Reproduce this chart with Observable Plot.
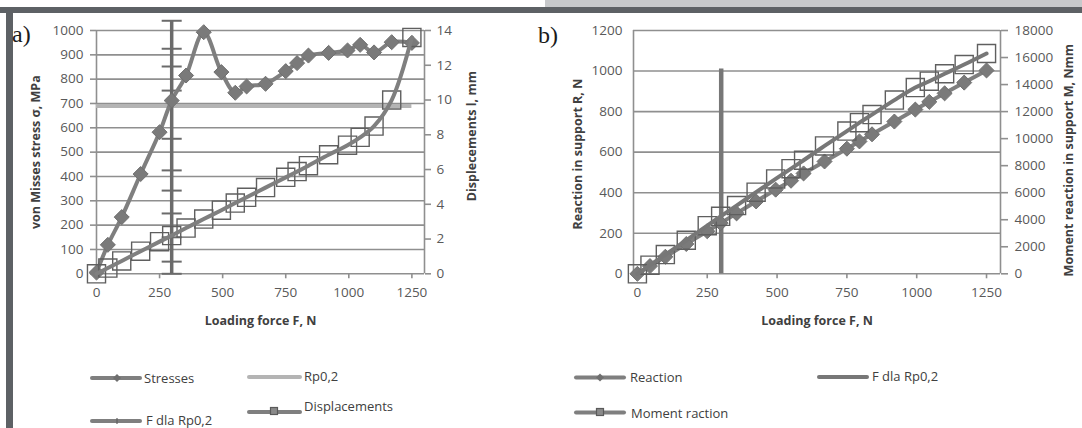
<!DOCTYPE html>
<html>
<head>
<meta charset="utf-8">
<script src="https://cdn.jsdelivr.net/npm/d3@7"></script>
<script src="https://cdn.jsdelivr.net/npm/@observablehq/plot@0.6"></script>
<style>
  body { margin: 0; background: #ffffff; }
  #root { position: relative; width: 1082px; height: 428px; overflow: hidden; background: #ffffff; font-family: "Open Sans", sans-serif; }
  .bar { position: absolute; }
  .lab { position: absolute; white-space: pre; line-height: 16px; }
</style>
</head>
<body>
<div id="root"></div>
<script>
// ---------------- data ----------------
const forceN = [0, 45, 100, 175, 250, 298, 355, 425, 495, 550, 595, 670, 750, 795, 840, 920, 995, 1045, 1100, 1170, 1250];
const stressMPa = [5, 119, 233, 410, 582, 712, 815, 993, 829, 744, 770, 781, 833, 866, 897, 908, 918, 941, 910, 952, 949];
const displacementMm = [0, 0.33, 0.74, 1.3, 1.85, 2.2, 2.63, 3.15, 3.66, 4.07, 4.4, 4.96, 5.55, 5.88, 6.22, 6.85, 7.4, 7.85, 8.5, 10.0, 13.6];
const reactionN = [0, 38, 84, 147, 210, 250, 298, 357, 415, 459, 495, 554, 617, 653, 688, 751, 810, 848, 890, 943, 1003];
const momentNmm = [0, 640, 1420, 2480, 3560, 4250, 5050, 6040, 7020, 7780, 8400, 9460, 10560, 11180, 11780, 12850, 13780, 14250, 14800, 15480, 16300];

const rp02MPa = 690;
const rp02ForceSpan = [0, 1250];
const fRp02A = 298;
const fRp02ALevels = [0, 50, 150, 248, 342, 425, 555, 753, 852, 925, 1040];
const fRp02B = 300;
const fRp02BSpan = [0, 1010];

const xTicks = [0, 250, 500, 750, 1000, 1250];
const stressTicks = [0, 100, 200, 300, 400, 500, 600, 700, 800, 900, 1000];
const dispTicks = [0, 2, 4, 6, 8, 10, 12, 14];
const reactionTicks = [0, 200, 400, 600, 800, 1000, 1200];
const momentTicks = [0, 2000, 4000, 6000, 8000, 10000, 12000, 14000, 16000, 18000];

const xDomainA = [0, 1300];
const xDomainB = [-14, 1300];

// ---------------- style ----------------
const FONT = '"Open Sans", sans-serif';
const GRID = "#8f8f8f";
const SER = "#7f7f7f";
const DARK = "#6b6b6b";
const SQ = "#5f5f5f";
const TICKTXT = "#595959";
const TITLE = "#404040";
const fmt = (d) => String(d);

const diamondSym = { draw(ctx, size) { const h = Math.sqrt(size / 2); ctx.moveTo(0, -h); ctx.lineTo(h, 0); ctx.lineTo(0, h); ctx.lineTo(-h, 0); ctx.closePath(); } };
const dashSym = { draw(ctx, size) { const w = Math.sqrt(size) / 2; ctx.moveTo(-w, 0); ctx.lineTo(w, 0); } };

const svgStyle = { fontFamily: FONT, fontSize: "13.5px", color: TICKTXT, background: "transparent", overflow: "visible" };
const W_A = 540, W_B = 542, H = 340;
const M = { marginTop: 30, marginBottom: 66.7 };

const root = document.getElementById("root");
function place(el, left, top) {
  el.style.position = "absolute";
  el.style.left = left + "px";
  el.style.top = top + "px";
  el.style.background = "transparent";
  el.style.maxWidth = "none";
  root.appendChild(el);
}
function box(left, top, w, h, color) {
  const d = document.createElement("div");
  d.className = "bar";
  Object.assign(d.style, { left: left + "px", top: top + "px", width: w + "px", height: h + "px", background: color });
  root.appendChild(d);
}

// frame decorations
box(545, 0, 537, 7, "#c7c9cb");
box(0, 7, 1082, 6, "#5d6165");
box(6, 7, 7, 421, "#5d6165");

const titleOpts = { text: (d) => d, fontWeight: "bold", fontSize: 12.5, fill: TITLE, fontFamily: FONT, textAnchor: "middle", lineAnchor: "middle" };

// ---------------- panel a : base (stresses) ----------------
const plotA = Plot.plot({
  width: W_A, height: H, marginLeft: 96, marginRight: 116, ...M,
  x: { domain: xDomainA },
  y: { domain: [0, 1000] },
  style: svgStyle,
  marks: [
    Plot.gridY(stressTicks, { stroke: GRID, strokeOpacity: 1, strokeWidth: 1.6 }),
    Plot.axisY(stressTicks, { tickSize: 6, tickPadding: 7, stroke: GRID, strokeWidth: 1.6, fill: TICKTXT, label: null, tickFormat: fmt }),
    Plot.axisX(xTicks, { tickSize: 5, tickPadding: 9, stroke: GRID, strokeWidth: 1.6, fill: TICKTXT, label: null, tickFormat: fmt }),
    Plot.ruleX([xDomainA[0]], { stroke: GRID, strokeWidth: 1.6 }),
    Plot.ruleY([rp02MPa], { x1: () => rp02ForceSpan[0], x2: () => rp02ForceSpan[1], stroke: "#b4b4b4", strokeWidth: 4 }),
    Plot.ruleX([fRp02A], { y1: () => fRp02ALevels[0], y2: () => fRp02ALevels[fRp02ALevels.length - 1], stroke: DARK, strokeWidth: 3.5 }),
    Plot.dot(fRp02ALevels, { x: () => fRp02A, y: (d) => d, symbol: dashSym, r: 11.3, fill: "none", stroke: DARK, strokeWidth: 2 }),
    Plot.line(forceN, { x: (d) => d, y: (d, i) => stressMPa[i], curve: "catmull-rom", stroke: SER, strokeWidth: 4 }),
    Plot.dot(forceN, { x: (d) => d, y: (d, i) => stressMPa[i], symbol: diamondSym, r: 6, fill: "#7a7a7a", stroke: "#707070", strokeWidth: 1 }),
    Plot.text(["von Misses stress σ, MPa"], { ...titleOpts, frameAnchor: "left", dx: -61, rotate: -90 }),
    Plot.text(["Loading force F, N"], { ...titleOpts, frameAnchor: "bottom", dy: 47 })
  ]
});
place(plotA, 0, 0);

// ---------------- panel a : overlay (displacements, right axis) ----------------
const plotA2 = Plot.plot({
  width: W_A, height: H, marginLeft: 96, marginRight: 116, ...M,
  x: { domain: xDomainA, axis: null },
  y: { domain: [0, 14] },
  style: svgStyle,
  marks: [
    Plot.ruleX([xDomainA[1]], { stroke: GRID, strokeWidth: 1.6 }),
    Plot.axisY(dispTicks, { anchor: "right", tickSize: 6, tickPadding: 6, stroke: GRID, strokeWidth: 1.6, fill: TICKTXT, label: null, tickFormat: fmt }),
    Plot.dot(forceN, { x: (d) => d, y: (d, i) => displacementMm[i], symbol: "square", r: 10.2, fill: "none", stroke: SQ, strokeWidth: 1.4 }),
    Plot.line(forceN, { x: (d) => d, y: (d, i) => displacementMm[i], curve: "catmull-rom", stroke: SER, strokeWidth: 4 }),
    Plot.text(["Displecements l, mm"], { ...titleOpts, frameAnchor: "right", dx: 47, dy: -16, rotate: -90 })
  ]
});
place(plotA2, 0, 0);

// ---------------- panel b : base (reaction) ----------------
const plotB = Plot.plot({
  width: W_B, height: H, marginLeft: 93, marginRight: 82, ...M,
  x: { domain: xDomainB },
  y: { domain: [0, 1200] },
  style: svgStyle,
  marks: [
    Plot.gridY(reactionTicks, { stroke: GRID, strokeOpacity: 1, strokeWidth: 1.6 }),
    Plot.axisY(reactionTicks, { tickSize: 0, tickPadding: 11, fill: TICKTXT, label: null, tickFormat: fmt }),
    Plot.axisX(xTicks, { tickSize: 5, tickPadding: 9, stroke: GRID, strokeWidth: 1.6, fill: TICKTXT, label: null, tickFormat: fmt }),
    Plot.ruleX([xDomainB[0]], { stroke: GRID, strokeWidth: 1.6 }),
    Plot.ruleX([fRp02B], { y1: () => fRp02BSpan[0], y2: () => fRp02BSpan[1], stroke: "#777777", strokeWidth: 4.5 }),
    Plot.line(forceN, { x: (d) => d, y: (d, i) => reactionN[i], curve: "catmull-rom", stroke: SER, strokeWidth: 4 }),
    Plot.dot(forceN, { x: (d) => d, y: (d, i) => reactionN[i], symbol: diamondSym, r: 6, fill: "#7a7a7a", stroke: "#707070", strokeWidth: 1 }),
    Plot.text(["Reaction in support R, N"], { ...titleOpts, frameAnchor: "left", dx: -56, dy: 2, rotate: -90 }),
    Plot.text(["Loading force F, N"], { ...titleOpts, frameAnchor: "bottom", dy: 47 })
  ]
});
place(plotB, 540, 0);

// ---------------- panel b : overlay (moment, right axis) ----------------
const plotB2 = Plot.plot({
  width: W_B, height: H, marginLeft: 93, marginRight: 82, ...M,
  x: { domain: xDomainB, axis: null },
  y: { domain: [0, 18000] },
  style: svgStyle,
  marks: [
    Plot.ruleX([xDomainB[1]], { stroke: GRID, strokeWidth: 1.6 }),
    Plot.axisY(momentTicks, { anchor: "right", tickSize: 7, tickPadding: 7, stroke: GRID, strokeWidth: 1.6, fill: TICKTXT, label: null, tickFormat: fmt }),
    Plot.dot(forceN, { x: (d) => d, y: (d, i) => momentNmm[i], symbol: "square", r: 10.2, fill: "none", stroke: SQ, strokeWidth: 1.4 }),
    Plot.line(forceN, { x: (d) => d, y: (d, i) => momentNmm[i], curve: "catmull-rom", stroke: "#777777", strokeWidth: 4 }),
    Plot.text(["Moment reaction in support M, Nmm"], { ...titleOpts, frameAnchor: "right", dx: 68, dy: 8, rotate: -90 })
  ]
});
place(plotB2, 540, 0);

// ---------------- panel letters ----------------
function label(text, left, top, css) {
  const d = document.createElement("div");
  d.className = "lab";
  d.textContent = text;
  d.style.left = left + "px";
  d.style.top = top + "px";
  Object.assign(d.style, css || {});
  root.appendChild(d);
  return d;
}
label("a)", 12, 20, { fontFamily: '"Liberation Serif", "DejaVu Serif", serif', fontSize: "24px", lineHeight: "28px", color: "#1a1a1a" });
label("b)", 538, 21, { fontFamily: '"Liberation Serif", "DejaVu Serif", serif', fontSize: "24px", lineHeight: "28px", color: "#1a1a1a" });

// ---------------- legends ----------------
const leg = d3.select(root).append("svg")
  .attr("width", 1082).attr("height", 428)
  .style("position", "absolute").style("left", "0px").style("top", "0px").style("pointer-events", "none");

function legendLine(x1, x2, y, color) {
  leg.append("line").attr("x1", x1).attr("x2", x2).attr("y1", y).attr("y2", y)
    .attr("stroke", color).attr("stroke-width", 4).attr("stroke-linecap", "round");
}
function legendDiamond(cx, cy) {
  leg.append("path").attr("d", `M${cx},${cy - 4}L${cx + 4},${cy}L${cx},${cy + 4}L${cx - 4},${cy}Z`).attr("fill", "#6f6f6f");
}
function legendSquare(cx, cy) {
  leg.append("rect").attr("x", cx - 3.5).attr("y", cy - 3.5).attr("width", 7).attr("height", 7)
    .attr("fill", "#8a8a8a").attr("stroke", "#5a5a5a").attr("stroke-width", 1.2);
}
function legendTick(cx, cy) {
  leg.append("line").attr("x1", cx).attr("x2", cx).attr("y1", cy - 3).attr("y2", cy + 3).attr("stroke", "#5f5f5f").attr("stroke-width", 1.2);
}
const legCss = { fontFamily: FONT, fontSize: "13px", color: TITLE };

legendLine(92, 140, 378, SER); legendDiamond(117, 378);
label("Stresses", 144, 370, legCss);
legendLine(249, 300, 377, "#b4b4b4");
label("Rp0,2", 304, 368, legCss);
legendLine(92, 140, 421, SER); legendTick(117, 421);
label("F dla Rp0,2", 146, 412, legCss);
legendLine(249, 300, 412, SER); legendSquare(274, 411);
label("Displacements", 304, 398, legCss);

legendLine(576, 624, 377.5, SER); legendDiamond(600, 377.5);
label("Reaction", 630, 369, legCss);
legendLine(819, 867, 377, "#777777");
label("F dla Rp0,2", 872, 368, legCss);
legendLine(576, 624, 412.5, SER); legendSquare(600, 412);
label("Moment raction", 631, 405, legCss);
</script>
</body>
</html>
